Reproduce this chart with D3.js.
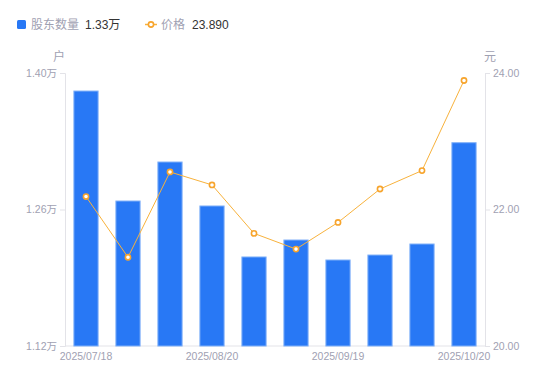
<!DOCTYPE html>
<html><head><meta charset="utf-8">
<script src="https://cdn.jsdelivr.net/npm/d3@7"></script>
<style>body{margin:0;background:#fff}svg{display:block;font-family:"Liberation Sans","Noto Sans CJK SC",sans-serif}</style>
</head><body><svg id="c" width="550" height="381"></svg>
<script>
const dates = ["2025/07/18","2025/07/31","2025/08/10","2025/08/20","2025/08/31","2025/09/10","2025/09/19","2025/09/30","2025/10/10","2025/10/20"];
const holders = [13815, 12687, 13087, 12636, 12113, 12287, 12082, 12133, 12246, 13285];
const prices = [22.19, 21.30, 22.55, 22.36, 21.65, 21.42, 21.81, 22.30, 22.57, 23.89];
const leftTicks = [11200, 12600, 14000];
const rightTicks = [20, 22, 24];
const shownDates = ["2025/07/18","2025/08/20","2025/09/19","2025/10/20"];

const svg = d3.select("#c");
const L = 65, R = 485, T = 73, B = 346;
const x = d3.scaleBand().domain(dates).range([L, R]).paddingInner(0.4).paddingOuter(0.2);
const yL = d3.scaleLinear().domain([11200, 14000]).range([B, T]);
const yR = d3.scaleLinear().domain([20, 24]).range([B, T]);
const grey = "#9fa1b2", axisCol = "#e3e3e8";
const cjk = "'Noto Sans CJK SC',sans-serif";

// axes
const gl = svg.append("g").attr("transform", `translate(${L},0)`)
  .call(d3.axisLeft(yL).tickValues(leftTicks).tickSize(5).tickPadding(3)
    .tickFormat(d => (d/10000).toFixed(2) + "万"));
const gr = svg.append("g").attr("transform", `translate(${R},0)`)
  .call(d3.axisRight(yR).tickValues(rightTicks).tickSize(5).tickPadding(3)
    .tickFormat(d => d.toFixed(2)));
const gb = svg.append("g").attr("transform", `translate(0,${B})`)
  .call(d3.axisBottom(x).tickValues(shownDates).tickSize(0).tickPadding(7));
[gl, gr, gb].forEach(g => {
  g.select(".domain").attr("stroke", axisCol);
  g.selectAll(".tick line").attr("stroke", axisCol);
  g.selectAll("text").attr("fill", grey).attr("font-size", 10.5).attr("font-family", "'Liberation Sans','Noto Sans CJK SC',sans-serif");
});
gb.select(".domain").attr("d", `M${L},0H${R}`);

// unit labels
svg.append("text").attr("x", 59).attr("y", 61).attr("text-anchor", "middle").attr("fill", grey).attr("font-size", 12).attr("font-family", cjk).text("户");
svg.append("text").attr("x", 490).attr("y", 61).attr("text-anchor", "middle").attr("fill", grey).attr("font-size", 12).attr("font-family", cjk).text("元");

// bars
svg.append("g").selectAll("rect").data(holders).join("rect")
  .attr("x", (d, i) => x(dates[i]) + 0.5)
  .attr("y", d => yL(d))
  .attr("width", x.bandwidth() - 1)
  .attr("height", d => B - yL(d))
  .attr("fill", "#2878f5").attr("stroke", "#7fb0f8").attr("stroke-width", 1);

// line
const cx = i => x(dates[i]) + x.bandwidth() / 2;
svg.append("path").datum(prices)
  .attr("d", d3.line().x((d, i) => cx(i)).y(d => yR(d)))
  .attr("fill", "none").attr("stroke", "#f8b23c").attr("stroke-width", 1);
svg.append("g").selectAll("circle").data(prices).join("circle")
  .attr("cx", (d, i) => cx(i)).attr("cy", d => yR(d)).attr("r", 2.6)
  .attr("fill", "#fff").attr("stroke", "#f7a42c").attr("stroke-width", 1.6);

// legend
const lg = svg.append("g").attr("font-size", 12);
lg.append("rect").attr("x", 17).attr("y", 20).attr("width", 9).attr("height", 9).attr("rx", 1.5).attr("fill", "#2878f5");
lg.append("text").attr("x", 31).attr("y", 29).attr("fill", grey).attr("font-family", cjk).text("股东数量");
lg.append("text").attr("x", 85).attr("y", 29).attr("fill", "#333").text((holders[holders.length-1]/10000).toFixed(2) + "万");
lg.append("line").attr("x1", 145).attr("x2", 157).attr("y1", 24.5).attr("y2", 24.5).attr("stroke", "#f8b23c").attr("stroke-width", 1.5);
lg.append("circle").attr("cx", 151).attr("cy", 24.5).attr("r", 2.6).attr("fill", "#fff").attr("stroke", "#f7a42c").attr("stroke-width", 1.6);
lg.append("text").attr("x", 161).attr("y", 29).attr("fill", grey).attr("font-family", cjk).text("价格");
lg.append("text").attr("x", 192).attr("y", 29).attr("fill", "#333").text(prices[prices.length-1].toFixed(3));
</script></body></html>
